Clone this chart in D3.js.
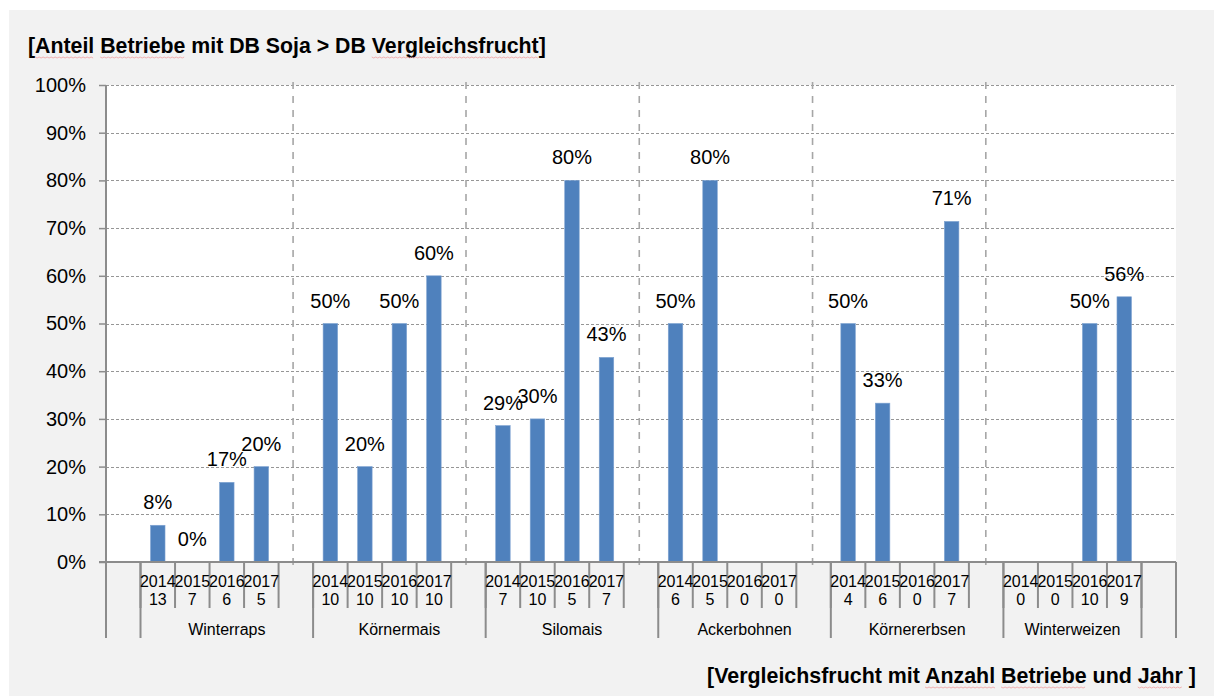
<!DOCTYPE html>
<html lang="de">
<head>
<meta charset="utf-8">
<title>Anteil Betriebe mit DB Soja > DB Vergleichsfrucht</title>
<script src="https://cdn.jsdelivr.net/npm/d3@7/dist/d3.min.js"></script>
<style>
  html, body { margin: 0; padding: 0; background: #ffffff; }
  svg { display: block; font-family: "Liberation Sans", Arial, sans-serif; }
</style>
</head>
<body>
<svg id="chart" width="1214" height="696"></svg>
<script>
// Vergleichsfrüchte (äußere Kategorie) und Jahre (innere Kategorie)
const crops = ["Winterraps", "Körnermais", "Silomais", "Ackerbohnen", "Körnererbsen", "Winterweizen"];
const years = ["2014", "2015", "2016", "2017"];

// Anzahl Betriebe je Frucht und Jahr
const counts = [
  [13, 7, 6, 5],
  [10, 10, 10, 10],
  [7, 10, 5, 7],
  [6, 5, 0, 0],
  [4, 6, 0, 7],
  [0, 0, 10, 9]
];

// Anteil Betriebe mit DB Soja > DB Vergleichsfrucht (null = keine Betriebe)
const shares = [
  [0.077, 0.0, 0.167, 0.20],
  [0.50, 0.20, 0.50, 0.60],
  [0.286, 0.30, 0.80, 0.429],
  [0.50, 0.80, null, null],
  [0.50, 0.333, null, 0.714],
  [null, null, 0.50, 0.556]
];

const yTicks = [0, 0.1, 0.2, 0.3, 0.4, 0.5, 0.6, 0.7, 0.8, 0.9, 1.0];

// Lage der senkrechten Gitterlinien, in Kategorie-Schritten gezählt
const vGridSlots = [5.42, 10.43, 15.45, 20.47, 25.49];

const titleText = "[Anteil Betriebe mit DB Soja > DB Vergleichsfrucht]";
const xTitleText = "[Vergleichsfrucht mit Anzahl Betriebe und Jahr ]";
const markedTitle = ["Anteil", "Betriebe", "Vergleichsfrucht"];
const markedXTitle = ["Anzahl", "Betriebe", "Jahr"];

// ---- Kategorien aufbauen: leere Anfangsstelle, je Frucht 4 Jahre (+ Leerstelle), leere Endstelle
const slots = [];
const groups = [];
slots.push({ id: "lead", year: null });
groups.push({ name: "", start: 0, end: 1 });
crops.forEach((crop, ci) => {
  const start = slots.length;
  years.forEach((yr, yi) => {
    slots.push({ id: crop + "-" + yr, year: yr, n: counts[ci][yi], v: shares[ci][yi] });
  });
  if (ci < crops.length - 1) slots.push({ id: crop + "-gap", year: null });
  groups.push({ name: crop, start, end: slots.length });
});
slots.push({ id: "tail", year: null });
groups.push({ name: "", start: slots.length - 1, end: slots.length });

const plot = { left: 106, right: 1176, top: 85, bottom: 562 };
const C = {
  bg: "#f2f2f2", bar: "#4f81bd", axis: "#8c8c8c",
  grid: "#969696", vgrid: "#a6a6a6", text: "#000000"
};

const svg = d3.select("#chart");

// Hintergrund
svg.append("rect").attr("x", 9).attr("y", 10).attr("width", 1214 - 9).attr("height", 696 - 10).attr("fill", C.bg);
svg.append("rect")
  .attr("x", plot.left).attr("y", plot.top)
  .attr("width", plot.right - plot.left).attr("height", plot.bottom - plot.top)
  .attr("fill", "#ffffff");

const x = d3.scaleBand().domain(slots.map(d => d.id)).range([plot.left, plot.right]).paddingInner(0).paddingOuter(0);
const step = x.step();
const xIdx = d3.scaleLinear().domain([0, slots.length]).range([plot.left, plot.right]);
const y = d3.scaleLinear().domain([0, 1]).range([plot.bottom, plot.top]);

// Waagerechte Gitterlinien und y-Achse
const yAxis = d3.axisLeft(y).tickValues(yTicks).tickFormat(d3.format(".0%")).tickSize(7).tickPadding(13);
const gy = svg.append("g").attr("transform", `translate(${plot.left},0)`).call(yAxis);
gy.select(".domain").remove();
gy.selectAll(".tick line").attr("stroke", C.axis).attr("stroke-width", 1.5);
gy.selectAll(".tick text").attr("font-size", 20).attr("fill", C.text)
  .attr("font-family", "'Liberation Sans', Arial, sans-serif");

svg.append("g").selectAll("line").data(yTicks.filter(t => t > 0)).join("line")
  .attr("x1", plot.left).attr("x2", plot.right)
  .attr("y1", d => Math.round(y(d)) + 0.5).attr("y2", d => Math.round(y(d)) + 0.5)
  .attr("stroke", C.grid).attr("stroke-width", 1).attr("stroke-dasharray", "3,2");

// Senkrechte Gitterlinien
svg.append("g").selectAll("line").data(vGridSlots).join("line")
  .attr("x1", d => xIdx(d)).attr("x2", d => xIdx(d))
  .attr("y1", plot.top - 3).attr("y2", plot.bottom + 4)
  .attr("stroke", C.vgrid).attr("stroke-width", 1.6).attr("stroke-dasharray", "7,7");

// Balken
const withValue = slots.filter(d => d.v != null);
const barW = step * 0.42;
svg.append("g").selectAll("rect").data(withValue).join("rect")
  .attr("x", d => x(d.id) + (step - barW) / 2)
  .attr("y", d => y(d.v))
  .attr("width", barW)
  .attr("height", d => y(0) - y(d.v))
  .attr("fill", C.bar)
  .attr("stroke", "#7fa3d1").attr("stroke-width", 0.6);

// Datenbeschriftungen
svg.append("g").selectAll("text").data(withValue).join("text")
  .attr("x", d => x(d.id) + step / 2)
  .attr("y", d => y(d.v) - 16)
  .attr("text-anchor", "middle")
  .attr("font-size", 20).attr("fill", C.text)
  .text(d => d3.format(".0%")(d.v));

// x-Achse: Grundlinie, Trennstriche, Jahres-/Anzahl- und Fruchtbeschriftungen
const axisG = svg.append("g").attr("stroke", C.axis).attr("stroke-width", 2);
axisG.append("line").attr("x1", plot.left - 7).attr("x2", plot.right).attr("y1", plot.bottom).attr("y2", plot.bottom);
axisG.append("line").attr("x1", plot.left).attr("x2", plot.left).attr("y1", plot.top).attr("y2", plot.bottom);

const bounds = d3.range(slots.length + 1);
axisG.selectAll("line.leaf").data(bounds).join("line").attr("class", "leaf")
  .attr("x1", d => xIdx(d)).attr("x2", d => xIdx(d))
  .attr("y1", plot.bottom).attr("y2", 608);

const groupBounds = Array.from(new Set(groups.flatMap(g => [g.start, g.end])));
axisG.selectAll("line.grp").data(groupBounds).join("line").attr("class", "grp")
  .attr("x1", d => xIdx(d)).attr("x2", d => xIdx(d))
  .attr("y1", plot.bottom).attr("y2", 638);

const leafLabels = svg.append("g").attr("font-size", 16).attr("fill", C.text).attr("text-anchor", "middle");
const leaf = leafLabels.selectAll("text").data(slots.filter(d => d.year)).join("text");
leaf.append("tspan").attr("x", d => x(d.id) + step / 2).attr("y", 587).text(d => d.year);
leaf.append("tspan").attr("x", d => x(d.id) + step / 2).attr("y", 605).text(d => d.n);

svg.append("g").attr("font-size", 16).attr("fill", C.text).attr("text-anchor", "middle")
  .selectAll("text").data(groups.filter(g => g.name)).join("text")
  .attr("x", g => (xIdx(g.start) + xIdx(g.end)) / 2)
  .attr("y", 635)
  .text(g => g.name);

// Überschriften
const title = svg.append("text").attr("x", 28).attr("y", 53)
  .attr("font-size", 21.3).attr("font-weight", "bold").attr("fill", C.text).text(titleText);
const xTitle = svg.append("text").attr("x", 1196).attr("y", 683).attr("text-anchor", "end")
  .attr("font-size", 21.4).attr("font-weight", "bold").attr("fill", C.text).text(xTitleText);

// Rechtschreib-Wellenlinien unter einzelnen Wörtern
function squiggle(textSel, words) {
  const node = textSel.node();
  const str = node.textContent;
  const box = node.getBBox();
  const x0 = box.x;
  const baseY = +textSel.attr("y") + 4;
  words.forEach(w => {
    const i = str.indexOf(w);
    if (i < 0) return;
    const sx = x0 + (i > 0 ? node.getSubStringLength(0, i) : 0);
    const wl = node.getSubStringLength(i, w.length);
    const pts = [];
    for (let px = 0; px <= wl; px += 2) pts.push([sx + px, baseY + ((px / 2) % 2 ? 1 : 0)]);
    svg.append("path").attr("d", d3.line()(pts))
      .attr("fill", "none").attr("stroke", "#f0a8a8").attr("stroke-width", 0.9);
  });
}
squiggle(title, markedTitle);
squiggle(xTitle, markedXTitle);
</script>
</body>
</html>
